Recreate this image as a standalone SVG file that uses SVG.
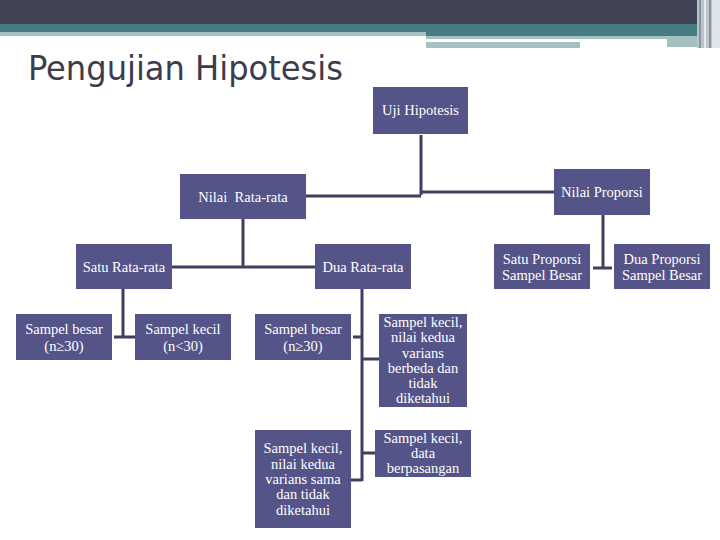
<svg xmlns="http://www.w3.org/2000/svg" width="720" height="540" viewBox="0 0 720 540">
<style>
.box{fill:#545488;}
.t{font-family:"Liberation Serif","Times New Roman",serif;font-size:14.5px;fill:#ffffff;text-anchor:middle;white-space:pre;}
.c{stroke:#3f3f60;stroke-width:3;fill:none;}
</style>
<rect width="720" height="540" fill="#ffffff"/>
<g id="header">
<rect x="0" y="0" width="720" height="24" fill="#434356"/>
<rect x="0" y="24" width="720" height="8" fill="#457e82"/>
<rect x="0" y="32" width="426" height="4" fill="#a6bfc1"/>
<rect x="426" y="32" width="294" height="4" fill="#457e82"/>
<rect x="426" y="36" width="241" height="3" fill="#a6bfc1"/>
<rect x="426" y="42" width="154" height="6" fill="#a6bfc1"/>
<rect x="667" y="36" width="30" height="11" fill="#a6bfc1"/>
<rect x="697" y="0" width="15" height="48" fill="#b8c4c8"/>
<rect x="699" y="0" width="2" height="48" fill="#8a93a0"/>
<rect x="704" y="0" width="2" height="48" fill="#e6eaec"/>
<rect x="709" y="0" width="2" height="48" fill="#8a93a0"/>
<rect x="712" y="0" width="8" height="48" fill="#dde5e6"/>
<text x="28" y="80" font-family="'DejaVu Sans Condensed','Open Sans',sans-serif" font-size="33" fill="#3c3c4c" textLength="315" lengthAdjust="spacingAndGlyphs">Pengujian Hipotesis</text>
</g>
<g id="connectors">
<path class="c" d="M421,135 V195 M306,196 H421 M421,192 H554"/>
<path class="c" d="M603,215 V268 M593,268 H612"/>
<path class="c" d="M243,219 V267 M172,267 H315"/>
<path class="c" d="M123,289 V337 M114,337 H135"/>
<path class="c" d="M362,289 V481 M353,337 H362 M362,359 H379 M362,453 H375 M351,480 H362"/>
</g>
<g id="uji"><rect class="box" x="373" y="87" width="95" height="47"/><text class="t" x="420.5" y="115">Uji Hipotesis</text></g>
<g id="nilai-rata"><rect class="box" x="180" y="174" width="126" height="45"/><text class="t" x="243" y="202">Nilai  Rata-rata</text></g>
<g id="nilai-proporsi"><rect class="box" x="554" y="169" width="96" height="46"/><text class="t" x="602" y="197">Nilai Proporsi</text></g>
<g id="satu-proporsi"><rect class="box" x="494" y="244" width="96" height="45"/><text class="t" x="542" y="264">Satu Proporsi</text><text class="t" x="542" y="280">Sampel Besar</text></g>
<g id="dua-proporsi"><rect class="box" x="614" y="244" width="96" height="45"/><text class="t" x="662" y="264">Dua Proporsi</text><text class="t" x="662" y="280">Sampel Besar</text></g>
<g id="satu-rata"><rect class="box" x="76" y="244" width="96" height="45"/><text class="t" x="124" y="272">Satu Rata-rata</text></g>
<g id="dua-rata"><rect class="box" x="315" y="244" width="96" height="45"/><text class="t" x="363" y="272">Dua Rata-rata</text></g>
<g id="s1-besar"><rect class="box" x="16" y="314" width="96" height="46"/><text class="t" x="64" y="334">Sampel besar</text><text class="t" x="64" y="351">(n≥30)</text></g>
<g id="s1-kecil"><rect class="box" x="135" y="314" width="96" height="46"/><text class="t" x="183" y="334">Sampel kecil</text><text class="t" x="183" y="351">(n&lt;30)</text></g>
<g id="s2-besar"><rect class="box" x="255" y="314" width="96" height="46"/><text class="t" x="303" y="334">Sampel besar</text><text class="t" x="303" y="351">(n≥30)</text></g>
<g id="s2-berbeda"><rect class="box" x="379" y="314" width="88" height="93"/>
<text class="t" x="423" y="327">Sampel kecil,</text><text class="t" x="423" y="342">nilai kedua</text><text class="t" x="423" y="358">varians</text><text class="t" x="423" y="373">berbeda dan</text><text class="t" x="423" y="388">tidak</text><text class="t" x="423" y="403">diketahui</text></g>
<g id="s2-sama"><rect class="box" x="255" y="430" width="96" height="98"/>
<text class="t" x="303" y="453">Sampel kecil,</text><text class="t" x="303" y="469">nilai kedua</text><text class="t" x="303" y="484">varians sama</text><text class="t" x="303" y="499">dan tidak</text><text class="t" x="303" y="515">diketahui</text></g>
<g id="s2-pasangan"><rect class="box" x="375" y="430" width="96" height="47"/>
<text class="t" x="423" y="443">Sampel kecil,</text><text class="t" x="423" y="458">data</text><text class="t" x="423" y="473">berpasangan</text></g>
</svg>
